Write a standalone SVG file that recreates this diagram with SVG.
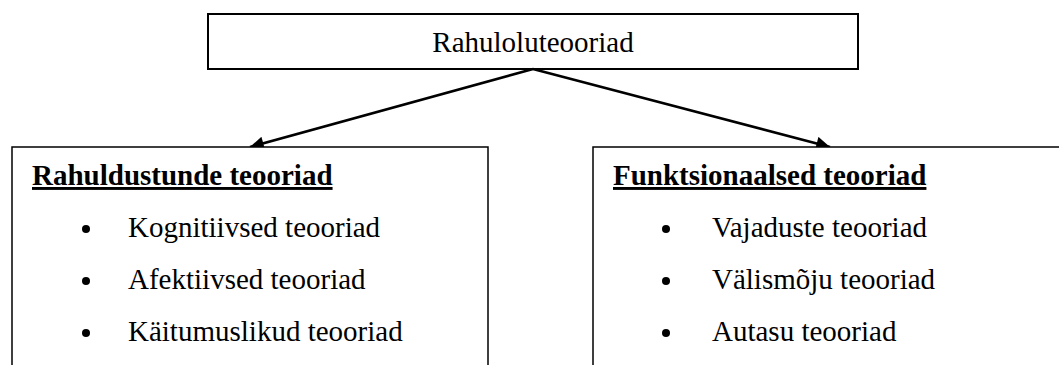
<svg xmlns="http://www.w3.org/2000/svg" width="1059" height="365" viewBox="0 0 1059 365">
<style>
  .box { fill: #ffffff; stroke: #000000; }
  .t { font-family: "Liberation Serif", "Times New Roman", serif; font-size: 29px; fill: #000000; }
  .h { font-weight: bold; text-decoration: underline; }
  .conn { stroke: #000000; stroke-width: 2.5; fill: none; }
</style>
<defs>
  <marker id="arr" viewBox="0 0 10 10" refX="10" refY="5" markerWidth="7" markerHeight="5.5" markerUnits="strokeWidth" orient="auto">
    <path d="M0,0 L10,5 L0,10 Z" fill="#000000"/>
  </marker>
</defs>
<rect width="1059" height="365" fill="#ffffff"/>
<g id="root">
  <rect class="box" x="208" y="14" width="650" height="55" stroke-width="2"/>
  <text class="t" x="533" y="52" text-anchor="middle">Rahuloluteooriad</text>
</g>
<g id="connectors">
  <line class="conn" x1="533" y1="69" x2="250" y2="147" marker-end="url(#arr)"/>
  <line class="conn" x1="533" y1="69" x2="830" y2="147" marker-end="url(#arr)"/>
</g>
<g id="left">
  <path class="box" d="M12,370 V147 H488 V370" stroke-width="1.5"/>
  <text class="t h" x="32" y="185">Rahuldustunde teooriad</text>
  <circle cx="86" cy="229" r="4"/>
  <text class="t" x="128" y="237">Kognitiivsed teooriad</text>
  <circle cx="86" cy="281" r="4"/>
  <text class="t" x="128" y="289">Afektiivsed teooriad</text>
  <circle cx="86" cy="333" r="4"/>
  <text class="t" x="128" y="341">Käitumuslikud teooriad</text>
</g>
<g id="right">
  <path class="box" d="M593,370 V147 H1070" stroke-width="1.5"/>
  <text class="t h" x="613" y="185">Funktsionaalsed teooriad</text>
  <circle cx="666" cy="229" r="4"/>
  <text class="t" x="712" y="237">Vajaduste teooriad</text>
  <circle cx="666" cy="281" r="4"/>
  <text class="t" x="712" y="289">Välismõju teooriad</text>
  <circle cx="666" cy="333" r="4"/>
  <text class="t" x="712" y="341">Autasu teooriad</text>
</g>
</svg>
